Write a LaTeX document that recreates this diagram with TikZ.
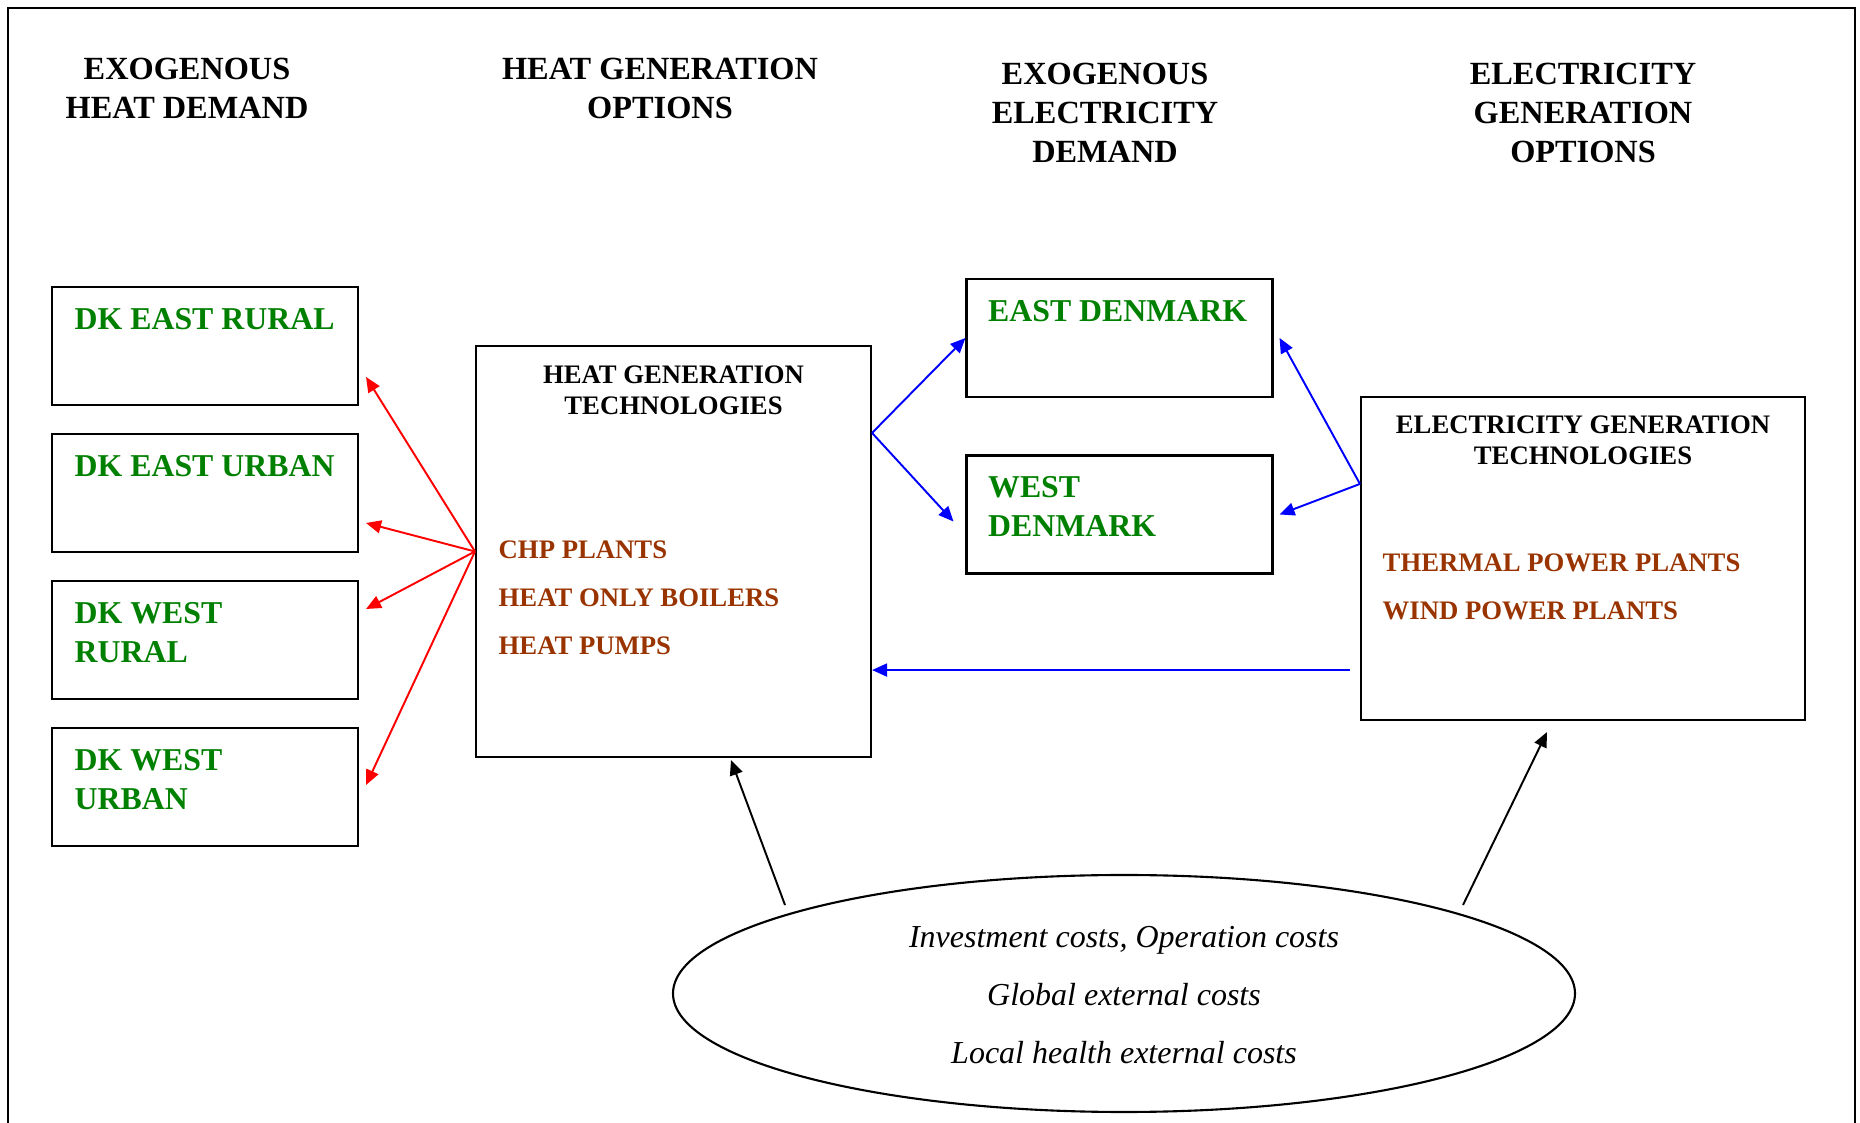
\documentclass[tikz,border=0pt]{standalone}
\usepackage{fontspec}
\setmainfont{Liberation Serif}
\usetikzlibrary{positioning,arrows.meta,shapes.geometric,calc}
\definecolor{demandgreen}{HTML}{008000}
\definecolor{techbrown}{HTML}{993300}
\definecolor{heatred}{HTML}{FF0000}
\definecolor{elecblue}{HTML}{0000FF}

\begin{document}
\begin{tikzpicture}[x=0.1mm, y=-0.1mm,
    regbox/.style={draw, line width=0.6pt, minimum width=30.6mm, minimum height=11.8mm, inner sep=0pt},
    techbox/.style 2 args={draw, line width=0.6pt, minimum width=#1, minimum height=#2, inner sep=0pt},
    head/.style={font=\fontsize{9.2}{11.2}\selectfont\bfseries, align=center, anchor=base, inner sep=0pt},
    region/.style={font=\fontsize{9.05}{11.2}\selectfont\bfseries, text=demandgreen, align=left, anchor=base west, inner sep=0pt},
    techtitle/.style={font=\fontsize{7.6}{9.1}\selectfont\bfseries, align=center, anchor=base, inner sep=0pt},
    techlist/.style={font=\fontsize{7.6}{13.7}\selectfont\bfseries, text=techbrown, align=left, anchor=base west, inner sep=0pt},
    arrow/.style={-{Triangle[length=1.5mm, width=1.3mm]}, line width=0.55pt},
]
\useasboundingbox (0,0) rectangle (1860,1123);
\draw[line width=0.6pt] (8,1123) |- (1855,8) -- (1855,1123);

\node[head] (hdheat) at (187,119) {EXOGENOUS\\HEAT DEMAND};
\node[head] (hdheatgen) at (660,119) {HEAT GENERATION\\OPTIONS};
\node[head] (hdelec) at (1105,163) {EXOGENOUS\\ELECTRICITY\\DEMAND};
\node[head] (hdelecgen) at (1583,163) {ELECTRICITY\\GENERATION\\OPTIONS};

\node[regbox] (er) at (205,346) {};
\node[regbox] (eu) at (205,493) {};
\node[regbox] (wr) at (205,640) {};
\node[regbox] (wu) at (205,787) {};
\node[region] (ertxt) at (74,330) {DK EAST RURAL};
\node[region] (eutxt) at (74,477) {DK EAST URBAN};
\node[region] (wrtxt) at (74,663) {DK WEST\\RURAL};
\node[region] (wutxt) at (74,810) {DK WEST\\URBAN};

\node[regbox] (ed) at (1119.5,338) {};
\node[regbox] (wd) at (1119.5,514.5) {};
\node[region] (edtxt) at (987.5,322) {EAST DENMARK};
\node[region] (wdtxt) at (987.5,537) {WEST\\DENMARK};

\node[techbox={39.5mm}{41.1mm}] (heat) at (673.5,551.5) {};
\node[techtitle] (heattitle) at (673.5,415) {HEAT GENERATION\\TECHNOLOGIES};
\node[techlist] (heatlist) at (498,655) {CHP PLANTS\\HEAT ONLY BOILERS\\HEAT PUMPS};

\node[techbox={44.4mm}{32.3mm}] (elec) at (1583,558.5) {};
\node[techtitle] (electitle) at (1583,465) {ELECTRICITY GENERATION\\TECHNOLOGIES};
\node[techlist] (eleclist) at (1382,620) {THERMAL POWER PLANTS\\WIND POWER PLANTS};

\node[draw, ellipse, line width=0.6pt, minimum width=90.2mm, minimum height=23.7mm, inner sep=0pt] (cost) at (1124,993.5) {};
\node[align=center, anchor=base, inner sep=0pt, font=\fontsize{9.1}{16.6}\selectfont\itshape] (costtxt) at (1124,1064) {Investment costs, Operation costs\\Global external costs\\Local health external costs};

\draw[arrow, heatred] (heat.west) -- ($(er.east)+(7,31)$);
\draw[arrow, heatred] (heat.west) -- ($(eu.east)+(7,30)$);
\draw[arrow, heatred] (heat.west) -- ($(wr.east)+(7,-31)$);
\draw[arrow, heatred] (heat.west) -- ($(wu.east)+(7,-2)$);

\coordinate (heatout) at ($(heat.north east)+(0,88)$);
\coordinate (elecout) at ($(elec.north west)+(0,88)$);
\draw[arrow, elecblue] (heatout) -- (ed.west);
\draw[arrow, elecblue] (heatout) -- ($(wd.west)+(-12,7)$);
\draw[arrow, elecblue] (elecout) -- ($(ed.east)+(6,0)$);
\draw[arrow, elecblue] (elecout) -- ($(wd.east)+(6,0)$);
\coordinate (elecback) at ($(elec.south west)+(-10,-51)$);
\draw[arrow, elecblue] (elecback) -- (heat.east |- elecback);

\coordinate (costl) at ($(cost.center)+(-339,-88.5)$);
\coordinate (costr) at ($(cost.center)+(339,-88.5)$);
\draw[arrow] (costl) -- ($(heat.south)+(57.5,2)$);
\draw[arrow] (costr) -- ($(elec.south)+(-36,11)$);
\end{tikzpicture}
\end{document}
